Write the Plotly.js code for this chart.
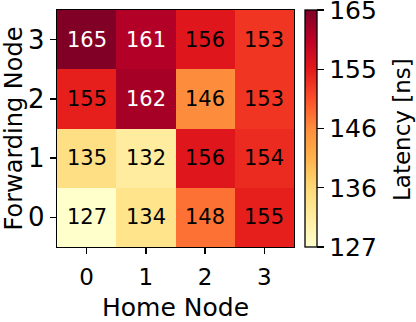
<!DOCTYPE html>
<html><head><meta charset="utf-8">
<script src="https://cdn.plot.ly/plotly-3.0.1.min.js"></script>
<style>html,body{margin:0;padding:0;background:#fff}#c{width:416px;height:322px}</style>
</head><body><div id="c"></div>
<script>
const homeNodes = [0, 1, 2, 3];
const forwardingNodes = [0, 1, 2, 3];
const latency = [
  [127, 134, 148, 155],
  [135, 132, 156, 154],
  [155, 162, 146, 153],
  [165, 161, 156, 153]
];
const cbTickVals = [127, 136.5, 146, 155.5, 165];
const cbTickText = ["127", "136", "146", "155", "165"];

const ylorrd = ["#ffffcc","#ffeda0","#fed976","#feb24c","#fd8d3c","#fc4e2a","#e31a1c","#bd0026","#800026"];
const colorscale = ylorrd.map((c, i) => [i / (ylorrd.length - 1), c]);
const zmin = 127, zmax = 165;

const annotations = [];
forwardingNodes.forEach((fy, i) => {
  homeNodes.forEach((hx, j) => {
    const v = latency[i][j];
    const frac = (v - zmin) / (zmax - zmin);
    annotations.push({
      x: hx, y: fy, xref: 'x', yref: 'y', text: String(v), showarrow: false,
      font: {family: 'DejaVu Sans', size: 21, color: frac > 0.8 ? '#ffffff' : '#000000'}
    });
  });
});
annotations.push({
  xref: 'paper', yref: 'paper', x: 1.456, y: 0.494, xanchor: 'center', yanchor: 'middle',
  text: 'Latency [ns]', textangle: -90, showarrow: false,
  font: {family: 'DejaVu Sans', size: 23, color: '#000'}
});

const trace = {
  type: 'heatmap', x: homeNodes, y: forwardingNodes, z: latency,
  zmin: zmin, zmax: zmax, colorscale: colorscale, hoverinfo: 'none',
  colorbar: {
    x: 1.046, xanchor: 'left', y: 0.5, yanchor: 'middle', len: 1.0, lenmode: 'fraction',
    thickness: 12, xpad: 0, ypad: 0, outlinewidth: 1.3, outlinecolor: '#000',
    tickmode: 'array', tickvals: cbTickVals, ticktext: cbTickText, ticklabeloverflow: 'allow',
    ticks: 'outside', ticklen: 7, tickwidth: 1.3, tickcolor: '#000',
    tickfont: {family: 'DejaVu Sans', size: 25, color: '#000'}
  }
};

const layout = {
  width: 416, height: 322,
  margin: {l: 57, r: 122, t: 10, b: 75},
  paper_bgcolor: '#fff', plot_bgcolor: '#fff',
  font: {family: 'DejaVu Sans', color: '#000'},
  xaxis: {
    range: [-0.5, 3.5], tickmode: 'array', tickvals: homeNodes, ticktext: homeNodes.map(String),
    ticks: 'outside', ticklen: 6, tickwidth: 1.3, tickcolor: '#000', ticklabelstandoff: 3,
    showline: true, linecolor: '#000', linewidth: 1.3, mirror: true, showgrid: false, zeroline: false,
    tickfont: {size: 23, color: '#000'},
    title: {text: 'Home Node', font: {size: 25, color: '#000'}, standoff: 14}
  },
  yaxis: {
    range: [-0.5, 3.5], tickmode: 'array', tickvals: forwardingNodes, ticktext: forwardingNodes.map(String),
    ticks: 'outside', ticklen: 6, tickwidth: 1.3, tickcolor: '#000',
    showline: true, linecolor: '#000', linewidth: 1.3, mirror: true, showgrid: false, zeroline: false,
    tickfont: {size: 26, color: '#000'},
    title: {text: 'Forwarding Node', font: {size: 24, color: '#000'}, standoff: 5}
  },
  annotations: annotations,
  showlegend: false
};

Plotly.newPlot('c', [trace], layout, {staticPlot: true, displayModeBar: false});
</script></body></html>
